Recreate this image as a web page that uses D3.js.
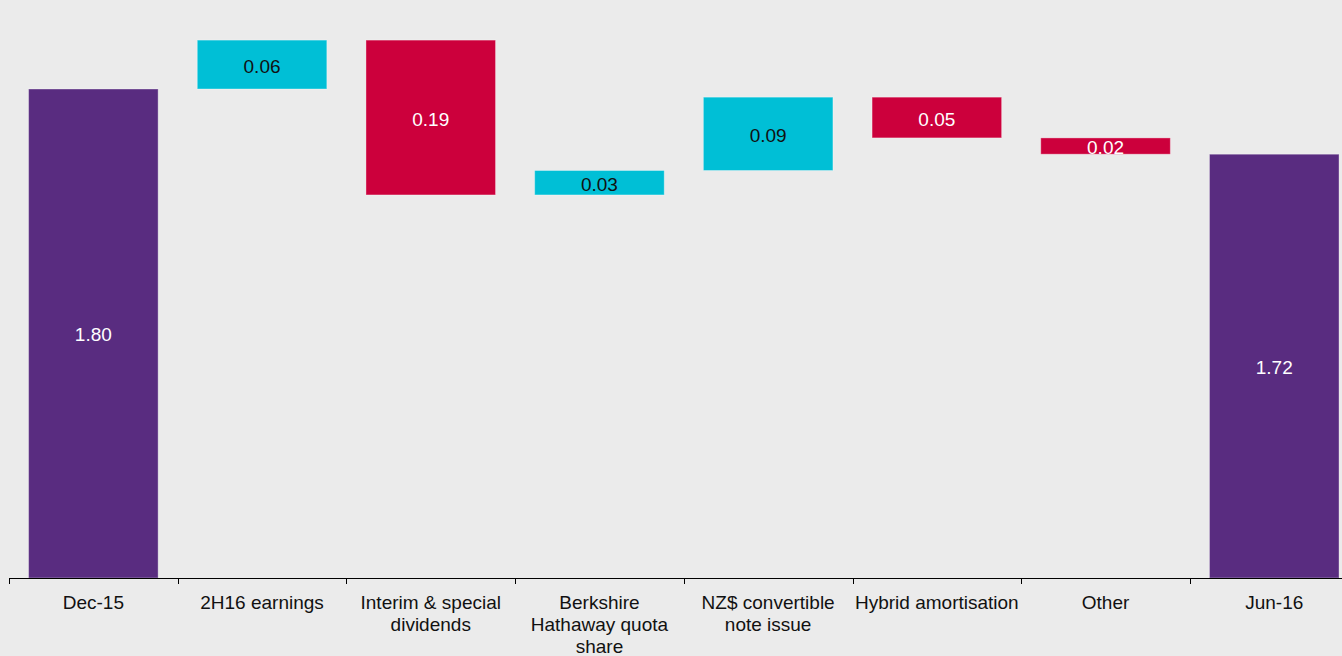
<!DOCTYPE html>
<html>
<head>
<meta charset="utf-8">
<script src="https://cdn.jsdelivr.net/npm/d3@7"></script>
<style>
  html, body { margin: 0; padding: 0; background: #ebebeb; overflow: hidden; }
  svg { display: block; font-family: "Liberation Sans", Arial, sans-serif; }
</style>
</head>
<body>
<div id="chart"></div>
<script>
// waterfall: capital movement Dec-15 -> Jun-16
var categories = ["Dec-15", "2H16 earnings", "Interim & special dividends", "Berkshire Hathaway quota share",
                  "NZ$ convertible note issue", "Hybrid amortisation", "Other", "Jun-16"]
var tickLabels = [["Dec-15"], ["2H16 earnings"], ["Interim & special", "dividends"],
                  ["Berkshire", "Hathaway quota", "share"], ["NZ$ convertible", "note issue"],
                  ["Hybrid amortisation"], ["Other"], ["Jun-16"]]
var values = [1.80, 0.06, -0.19, 0.03, 0.09, -0.05, -0.02, 1.72]
var isTotal = [true, false, false, false, false, false, false, true]

var width = 1342
var height = 656
var baseY = 578

var colors = { total: "#592c80", up: "#00bfd6", down: "#cc003c" }

// build start/end for each bar
var running = 0
var bars = categories.map(function(c, i){
    var d = { cat: c, value: values[i], lines: tickLabels[i] }
    if (isTotal[i]) {
        d.start = 1.2
        d.end = values[i]
        running = values[i]
        d.kind = "total"
    } else {
        d.start = running
        d.end = running + values[i]
        running = d.end
        d.kind = values[i] >= 0 ? "up" : "down"
    }
    return d
})

var svg = d3.select("#chart").append("svg")
    .attr("width", width)
    .attr("height", height)

svg.append("rect").attr("width", width).attr("height", height).attr("fill", "#ebebeb")

var x = d3.scaleBand()
    .domain(categories)
    .range([9, 9 + 8 * 168.7])
    .paddingInner(0.232)
    .paddingOuter(0.116)

var y = d3.scaleLinear()
    .domain([1.2, 1.9])
    .range([baseY, baseY - 0.7 * 815])

svg.selectAll(".bar")
    .data(bars).enter()
    .append("rect")
    .attr("class", "bar")
    .attr("x", function(d){ return x(d.cat) })
    .attr("width", x.bandwidth())
    .attr("y", function(d){ return y(Math.max(d.start, d.end)) })
    .attr("height", function(d){ return Math.abs(y(d.start) - y(d.end)) })
    .attr("fill", function(d){ return colors[d.kind] })
    .attr("stroke", "rgba(255,255,255,0.35)")
    .attr("stroke-width", 1)

var fmt = d3.format(".2f")
svg.selectAll(".val")
    .data(bars).enter()
    .append("text")
    .attr("class", "val")
    .attr("x", function(d){ return x(d.cat) + x.bandwidth() / 2 })
    .attr("y", function(d){ return (y(d.start) + y(d.end)) / 2 })
    .attr("dy", "0.42em")
    .attr("text-anchor", "middle")
    .attr("font-size", 19)
    .attr("fill", function(d){ return d.kind == "up" ? "#111" : "#fff" })
    .text(function(d){ return fmt(Math.abs(d.value)) })

// axis line with ticks between categories
var step = x.step()
var boundaries = d3.range(categories.length + 1).map(function(i){ return x.range()[0] + i * step })
svg.append("line")
    .attr("x1", boundaries[0]).attr("x2", width)
    .attr("y1", baseY + 0.5).attr("y2", baseY + 0.5)
    .attr("stroke", "#000").attr("stroke-width", 1)
svg.selectAll(".tick")
    .data(boundaries).enter()
    .append("line")
    .attr("class", "tick")
    .attr("x1", function(d){ return Math.round(d) + 0.5 })
    .attr("x2", function(d){ return Math.round(d) + 0.5 })
    .attr("y1", baseY).attr("y2", baseY + 6)
    .attr("stroke", "#000").attr("stroke-width", 1)

var labels = svg.selectAll(".cat")
    .data(bars).enter()
    .append("text")
    .attr("class", "cat")
    .attr("text-anchor", "middle")
    .attr("font-size", 19)
    .attr("fill", "#111")
labels.selectAll("tspan")
    .data(function(d){ return d.lines.map(function(l){ return { line: l, cat: d.cat } }) })
    .enter().append("tspan")
    .attr("x", function(d){ return x(d.cat) + x.bandwidth() / 2 })
    .attr("y", function(d, i){ return 609 + i * 22 })
    .text(function(d){ return d.line })
</script>
</body>
</html>
